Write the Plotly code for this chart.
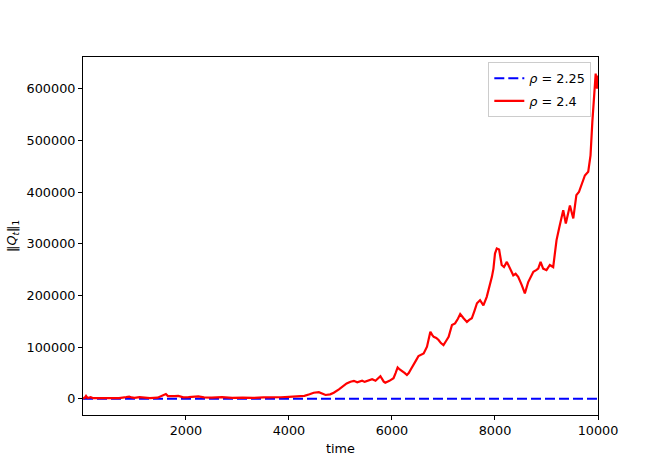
import plotly.graph_objects as go

# ---- data ----
red_time = [1, 30, 60, 90, 150, 200, 300, 500, 700, 840, 900, 940, 1000, 1100, 1200, 1300,
            1450, 1520, 1560, 1610, 1650, 1700, 1780, 1850, 1950, 2050, 2160, 2240, 2350, 2500,
            2700, 2900, 3100, 3300, 3500, 3700, 3840, 4000, 4150, 4300, 4400, 4480, 4580, 4650,
            4710, 4800, 4870, 4970, 5050, 5120, 5195, 5260, 5325, 5390, 5420, 5470, 5520, 5570,
            5615, 5680, 5730, 5775, 5840, 5870, 5950, 6030, 6070, 6110, 6150, 6195, 6250, 6290,
            6325, 6370, 6420, 6470, 6515, 6570, 6615, 6680, 6745, 6780, 6810, 6860, 6905, 6950,
            7000, 7050, 7100, 7165, 7225, 7280, 7325, 7390, 7455, 7500, 7550, 7600, 7650, 7710,
            7775, 7840, 7890, 7940, 7970, 8000, 8035, 8080, 8130, 8175, 8230, 8290, 8355, 8400,
            8450, 8520, 8580, 8645, 8700, 8745, 8800, 8840, 8885, 8935, 9000, 9065, 9130, 9165,
            9195, 9245, 9295, 9325, 9375, 9420, 9455, 9520, 9580, 9630, 9680, 9745, 9810, 9855,
            9890, 9925, 9955, 9980, 10000]
red_values = [2500, 1500, 6000, 1800, 3500, 1500, 1800, 1200, 1500, 3500, 4500, 3000, 2000, 3500, 1800, 1500,
              2500, 5000, 7500, 9500, 5500, 6000, 5500, 6000, 3000, 3500, 4500, 5000, 3000, 2500,
              3500, 2000, 2500, 2000, 3000, 2800, 3300, 4000, 4500, 6000, 9000, 12000, 13000, 10000,
              7700, 9000, 12000, 18700, 25000, 30000, 33400, 35000, 32200, 34000, 35300, 33000, 34700, 36000,
              38000, 35300, 40000, 44000, 33400, 31500, 35000, 40000, 50000, 61000, 57000, 54600, 50000, 46300,
              50000, 58000, 65600, 75000, 83000, 86000, 88000, 101000, 130000, 124000, 120000, 118000, 114000, 108000,
              104000, 112000, 120000, 143000, 146000, 155000, 164000, 156000, 149000, 153000, 156000, 170000, 185000, 191000,
              181000, 197500, 215000, 236000, 252000, 281000, 291000, 289000, 259000, 255000, 265000, 252000, 239000, 242000,
              236000, 220000, 204000, 226000, 236000, 246000, 249000, 252000, 265000, 252000, 249000, 259000, 255000, 290000,
              307000, 330000, 352000, 365000, 339000, 358000, 374000, 349000, 394000, 400000, 413000, 432000, 439000, 471000,
              535000, 587000, 629000, 600000, 625000]

blue_time = [1, 2500, 5000, 7500, 10000]
blue_values = [300, 300, 300, 300, 300]

x_ticks = [2000, 4000, 6000, 8000, 10000]
y_ticks = [0, 100000, 200000, 300000, 400000, 500000, 600000]

font = dict(family="DejaVu Sans", size=12.8, color="black")

fig = go.Figure()
fig.add_trace(go.Scatter(x=blue_time, y=blue_values, mode="lines", name="<i>ρ</i> = 2.25",
                         legendgroup="a",
                         line=dict(color="#0000ff", width=2, dash="10px,4px")))
fig.add_trace(go.Scatter(x=red_time, y=red_values, mode="lines", name="<i>ρ</i> = 2.4",
                         legendgroup="b",
                         line=dict(color="#ff0000", width=2.2)))

axis_common = dict(showgrid=False, zeroline=False, showline=True, linecolor="black", linewidth=1,
                   mirror=True, ticks="outside", ticklen=4, tickwidth=1, tickcolor="black",
                   tickfont=font)
fig.update_xaxes(range=[1, 10000], tickvals=x_ticks, ticktext=[str(v) for v in x_ticks], **axis_common)
fig.update_yaxes(range=[-31000, 661000], tickvals=y_ticks, ticktext=[str(v) for v in y_ticks], **axis_common)

fig.update_layout(
    width=664, height=475,
    margin=dict(l=83, r=66, t=57, b=60),
    paper_bgcolor="white", plot_bgcolor="white",
    font=font,
    showlegend=True,
    legend=dict(x=0.987, y=0.985, xanchor="right", yanchor="top",
                traceorder="grouped", tracegroupgap=3,
                bgcolor="rgba(255,255,255,0.8)", bordercolor="#cccccc", borderwidth=1,
                font=font),
    annotations=[
        dict(text="time", xref="paper", yref="paper", x=0.5, y=-33/358, yanchor="middle",
             xanchor="center", showarrow=False, font=font),
        dict(text="‖<i>Q</i><sub><i>t</i></sub>‖<sub>1</sub>", xref="paper", yref="paper",
             x=-71/515, y=0.5, xanchor="center", yanchor="middle", textangle=-90,
             showarrow=False, font=font),
    ],
)

fig.write_html("out.html",
               config={"displayModeBar": False},
               post_script="document.body.style.margin='0';document.body.style.overflow='hidden';")
